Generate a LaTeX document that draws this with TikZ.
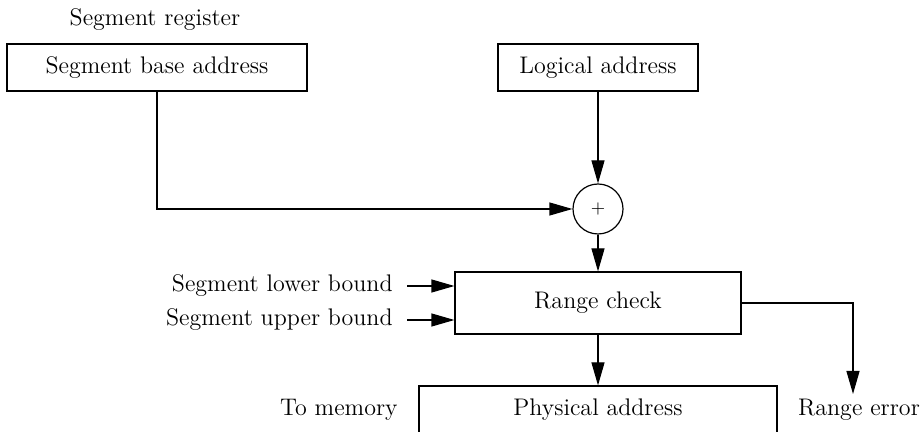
\documentclass[tikz,border=0pt]{standalone}
\usetikzlibrary{positioning}
\usetikzlibrary{arrows.meta}

\begin{document}
\begin{tikzpicture}[
		x=0.5pt, y=-0.5pt,
		font=\fontsize{12}{14}\selectfont,
		box/.style = {rectangle,	draw,	line width=0.6pt,	inner sep=0pt},
		sum/.style = {circle,	draw,	line width=0.6pt,	minimum size=25pt, inner sep=0pt, font=\small},
		lbl/.style = {inner xsep=7pt, inner ysep=0pt},
		arr/.style = {-{Triangle[length=11.5pt, width=6.5pt]}, line width=0.6pt}
		]
		\useasboundingbox (0, 0) rectangle (921, 432);
		
		%Nodes
		\node			(reg)	at	(155, 20)	{Segment register};
		\node[box, minimum width=150pt, minimum height=23.5pt]	(base)	at	(157, 67.5)	{Segment base address};
		\node[box, minimum width=100pt, minimum height=23.5pt]	(logic)	at	(598, 67.5)	{Logical address};
		
		\node[sum]		(add)	at	(598, 209)	{$+$};
		\node[box, minimum width=143pt, minimum height=31pt]	(check)	at	(598, 303)	{Range check};
		\node[box, minimum width=179pt, minimum height=24pt]	(phys)	at	(598, 410)	{Physical address};
		
		\node[lbl, anchor=east]	(lower)	at	(407, 286)	{Segment lower bound};
		\node[lbl, anchor=east]	(upper)	at	(407, 320)	{Segment upper bound};
		\node[lbl, anchor=east]	(tomem)	at	(412, 410)	{To memory};
		\node					(err)	at	(859, 410)	{Range error};
		\coordinate				(errin)	at	(853, 394);
		
		%Lines
		\draw[arr]	(base.south)	|-	(add.west);
		\draw[arr]	(logic.south)	--	(add.north);
		\draw[arr]	(add.south)		--	(check.north);
		\draw[arr]	(check.south)	--	(phys.north);
		\draw[arr]	(lower.east)	--	(lower -| check.west);
		\draw[arr]	(upper.east)	--	(upper -| check.west);
		\draw[arr]	(check.east)	-|	(errin);
	\end{tikzpicture}
\end{document}
